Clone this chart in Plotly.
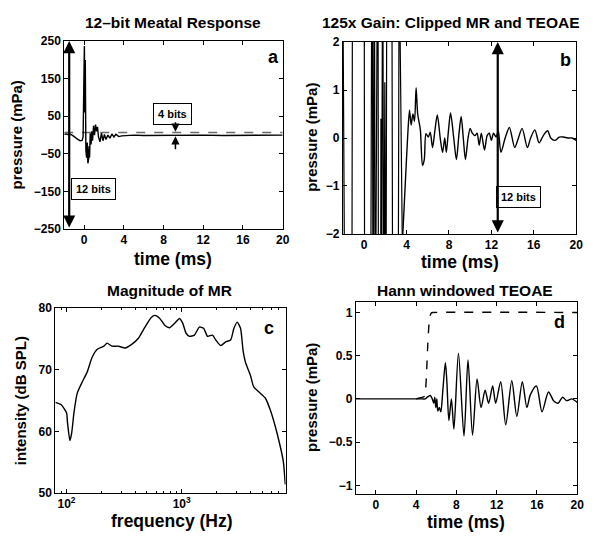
import plotly.graph_objects as go

# ---------------- data ----------------
# (a) 12-bit meatal response, time (ms) vs pressure (mPa)
meatal_t = [-2.0, -1.8, -1.6, -1.4, -1.2, -1.0, -0.8, -0.6, -0.4, -0.2, -0.1, 0.0, 0.03, 0.08,
            0.12, 0.18, 0.25, 0.32, 0.38, 0.45, 0.5, 0.55, 0.62, 0.7, 0.78, 0.85, 0.95, 1.05,
            1.15, 1.25, 1.35, 1.45, 1.6, 1.75, 1.9, 2.05, 2.2, 2.4, 2.6, 2.8, 3.0, 3.2, 3.5,
            3.8, 4.2, 5.0, 6.0, 8.0, 10.0, 12.0, 14.0, 16.0, 18.0, 20.0]
meatal_p = [2, 3, 1, 2, 0, -3, -8, -12, -15, -14, -5, 190, 237, 60,
            200, -40, -60, -20, -75, -65, -30, -60, 5, -25, 10, -15, 25, 0,
            28, 10, 22, -5, -18, 5, -15, 2, -12, 0, -8, 3, -5, 2, -4,
            -2, -1, 0, -1, 0, -1, 0, -1, 0, 0, 0]
lsb_t = [-2, 20]
lsb_p = [7, 7]

# (b) 125x gain recording: clipped meatal response, then the TEOAE
clip_t = [-2.0, -1.85, -1.5, -1.15, -1.1, -0.5, 0.0, 0.05, 0.3, 0.6, 0.75, 0.85, 0.95, 1.05,
          1.3, 1.35, 1.55, 1.58, 1.62, 1.75, 1.85, 1.95, 2.05, 2.15, 2.6, 2.7, 3.2, 3.3, 3.6]
clip_p = [3, -3, -4, -3, 4, 5, 5, -5, -6, -5, 6, -6, 6, -5,
          6, -5, -5, 0.4, -5, 5, -5, 1.16, -5, 5, 5, -5, -5, 4, -2.2]
tail_t = [3.6, 3.88, 4.12, 4.28, 4.43, 4.6, 4.75, 4.9, 5.05, 5.3, 5.5, 5.67, 5.83, 6.05, 6.23,
          6.45, 6.67, 6.9, 7.2, 7.4, 7.6, 7.75, 7.95, 8.15, 8.45, 8.7, 8.95, 9.15, 9.35, 9.55,
          9.8, 10.0, 10.2, 10.45, 10.65, 10.85, 11.05, 11.35, 11.6, 11.8, 12.0, 12.2, 12.45,
          12.65, 12.9, 13.3, 13.7, 14.2, 14.55, 14.9, 15.4, 15.7, 16.1, 16.5, 16.9, 17.3,
          17.6, 18.0, 18.4, 18.8, 19.2, 19.6, 20.0]
tail_p = [-2.2, -0.95, 0.1, 0.58, 0.27, 0.5, 0.35, 1.05, 0.5, 0.17, -0.57, -0.45, 0.09, 0.02, 0.12,
          -0.2, 0.15, 0.48, -0.05, -0.3, 0.0, -0.3, 0.15, 0.52, 0.0, -0.45, 0.1, 0.45, 0.0, -0.45,
          0.0, 0.2, 0.1, 0.05, 0.1, -0.15, 0.1, -0.25, 0.05, 0.1, -0.05, 0.1, 0.02,
          0.15, -0.3, 0.0, 0.22, -0.2, 0.0, 0.2, -0.2, 0.0, 0.17, -0.1, 0.05, 0.15,
          0.0, -0.05, 0.02, 0.02, 0.0, 0.0, -0.05]

# (c) magnitude spectrum of the meatal response
freq_hz = [80, 90, 100, 102, 107, 111, 116, 124, 137, 151, 167, 185, 211, 225, 248, 283, 323,
           368, 421, 480, 547, 585, 646, 713, 787, 869, 959, 1023, 1093, 1169, 1290, 1424,
           1551, 1679, 1853, 1978, 2184, 2411, 2662, 2845, 3037, 3245, 3420, 3581, 3954,
           4227, 4667, 5323, 5877, 6480, 7152, 7640, 7945]
level_db = [64.7, 64.3, 63.0, 61.4, 58.5, 59.8, 63.0, 66.2, 68.0, 69.6, 72.0, 73.3, 73.8, 74.3,
            73.8, 73.8, 73.5, 74.1, 75.1, 76.9, 78.5, 78.8, 78.3, 77.2, 76.8, 77.5, 78.3,
            77.5, 75.9, 75.4, 75.6, 76.9, 76.7, 75.4, 75.6, 74.8, 73.9, 74.5, 74.8, 76.7,
            77.7, 76.7, 73.0, 71.2, 69.1, 67.2, 66.4, 65.4, 63.5, 60.9, 57.7, 55.1, 51.4]

# (d) Hann-windowed TEOAE and the window itself
teoae_t = [-2.0, 4.6, 4.9, 5.1, 5.4, 5.6, 5.75, 5.85, 5.95, 6.05, 6.15, 6.3, 6.45, 6.65, 6.9,
           7.05, 7.25, 7.5, 7.75, 8.2, 8.75, 9.15, 9.6, 10.05, 10.45, 10.85, 11.2, 11.6, 11.9,
           12.4, 12.9, 13.5, 14.0, 14.55, 15.0, 15.35, 15.95, 16.5, 17.15, 17.65, 18.1,
           18.55, 18.95, 19.45, 19.9, 20.0]
teoae_p = [0.0, 0.0, 0.0, 0.02, 0.04, 0.0, -0.05, 0.02, -0.1, 0.0, -0.14, -0.1, -0.15, 0.1, 0.42,
           0.2, -0.25, 0.0, -0.35, 0.53, -0.43, 0.45, -0.42, 0.23, -0.1, 0.1, -0.05, 0.15, -0.05,
           0.2, -0.3, 0.21, -0.2, 0.2, -0.1, 0.05, 0.15, -0.15, 0.08, -0.02, -0.05,
           0.02, -0.02, 0.0, -0.03, -0.04]
hann_t = [4.0, 4.85, 4.95, 5.05, 5.15, 5.25, 5.35, 5.5, 5.65, 20.0]
hann_w = [0.0, 0.03, 0.12, 0.35, 0.62, 0.83, 0.95, 0.995, 1.0, 1.0]

# axis ticks
time_ticks = [0, 4, 8, 12, 16, 20]
mr_ticks = [-250, -150, -50, 50, 150, 250]
clip_ticks = [-2, -1, 0, 1, 2]
db_ticks = [50, 60, 70, 80]
freq_ticks = [100, 1000]
freq_ticktext = ["10<sup>2</sup>", "10<sup>3</sup>"]
minor_freq = [90, 200, 300, 400, 500, 600, 700, 800, 900, 2000, 3000, 4000, 5000, 6000, 7000, 8000]
win_ticks = [-1, -0.5, 0, 0.5, 1]

# ---------------- figure ----------------
W, H = 600, 538
FONT = "Liberation Sans, Arial, sans-serif"
LINE = dict(color="black", width=1.4)

fig = go.Figure()
fig.add_trace(go.Scatter(x=lsb_t, y=lsb_p, mode="lines",
                         line=dict(color="#6a6a6a", width=1.4, dash="dash"), xaxis="x", yaxis="y"))
fig.add_trace(go.Scatter(x=meatal_t, y=meatal_p, mode="lines", line=LINE, xaxis="x", yaxis="y"))
fig.add_trace(go.Scatter(x=clip_t, y=clip_p, mode="lines", line=dict(color="black", width=1.2),
                         xaxis="x2", yaxis="y2"))
fig.add_trace(go.Scatter(x=tail_t, y=tail_p, mode="lines",
                         line=dict(color="black", width=1.4, shape="spline", smoothing=0.8),
                         xaxis="x2", yaxis="y2"))
fig.add_trace(go.Scatter(x=freq_hz, y=level_db, mode="lines",
                         line=dict(color="black", width=1.4, shape="spline", smoothing=0.6),
                         xaxis="x3", yaxis="y3"))
fig.add_trace(go.Scatter(x=teoae_t, y=teoae_p, mode="lines",
                         line=dict(color="black", width=1.4, shape="spline", smoothing=0.8),
                         xaxis="x4", yaxis="y4"))
fig.add_trace(go.Scatter(x=hann_t, y=hann_w, mode="lines",
                         line=dict(color="black", width=1.4, dash="dash", shape="spline", smoothing=0.5),
                         xaxis="x4", yaxis="y4"))


def px_x(px):
    return px / W


def px_y(py):
    return 1 - py / H


def axis_style(**kw):
    base = dict(showline=True, linecolor="black", linewidth=1, mirror="ticks",
                ticks="inside", ticklen=4, tickcolor="black", showgrid=False, zeroline=False,
                tickfont=dict(family=FONT, size=12, color="black", weight="bold"))
    base.update(kw)
    return base


fig.update_layout(
    width=W, height=H, margin=dict(l=0, r=0, t=0, b=0),
    paper_bgcolor="white", plot_bgcolor="white", showlegend=False,
    xaxis=axis_style(domain=[px_x(65), px_x(286)], range=[-2, 20], tickvals=time_ticks, anchor="y"),
    yaxis=axis_style(domain=[px_y(228), px_y(35)], range=[-250, 250], tickvals=mr_ticks, anchor="x"),
    xaxis2=axis_style(domain=[px_x(347), px_x(583)], range=[-2, 20], tickvals=time_ticks, anchor="y2"),
    yaxis2=axis_style(domain=[px_y(233), px_y(36)], range=[-2, 2], tickvals=clip_ticks, anchor="x2"),
    xaxis3=axis_style(domain=[px_x(56), px_x(289)], type="log", range=[1.903, 3.903],
                      tickvals=freq_ticks, ticktext=freq_ticktext, anchor="y3",
                      minor=dict(tickvals=minor_freq, ticks="inside", ticklen=2, tickcolor="black")),
    yaxis3=axis_style(domain=[px_y(499), px_y(309)], range=[50, 80], tickvals=db_ticks, anchor="x3"),
    xaxis4=axis_style(domain=[px_x(360), px_x(584)], range=[-2, 20], tickvals=time_ticks, anchor="y4"),
    yaxis4=axis_style(domain=[px_y(500), px_y(303)], range=[-1.1, 1.12], tickvals=win_ticks, anchor="x4"),
)

ann = []


def text(s, x, y, size, angle=0, **kw):
    d = dict(text=s, x=px_x(x), y=px_y(y), xref="paper", yref="paper", showarrow=False,
             xanchor="center", yanchor="middle", textangle=angle,
             font=dict(family=FONT, size=size, color="black", weight="bold"))
    d.update(kw)
    ann.append(d)


# panel titles
text("12\u2013bit Meatal Response", 175, 16, 15.5)
text("125x Gain: Clipped MR and TEOAE", 456, 16, 15.5)
text("Magnitude of MR", 172, 291, 15.5)
text("Hann windowed TEOAE", 470, 291, 15.5)
# axis titles
text("time (ms)", 175, 259, 17.5)
text("time (ms)", 465, 262, 17.5)
text("frequency (Hz)", 174, 528, 17.5)
text("time (ms)", 472, 529, 17.5)
text("pressure (mPa)", 17, 131, 15, angle=-90)
text("pressure (mPa)", 315, 134, 15, angle=-90)
text("intensity (dB SPL)", 21, 404, 15, angle=-90)
text("pressure (mPa)", 315, 401, 15, angle=-90)
# panel letters
text("a", 277, 51, 18)
text("b", 572, 54, 18)
text("c", 272, 330, 18)
text("d", 566, 323, 18)
# boxed labels
box = dict(bordercolor="black", borderwidth=1, borderpad=4, bgcolor="white")
text("12 bits", 94.5, 186.5, 11, **box)
text("4 bits", 174.5, 109.5, 11, **box)
text("12 bits", 524.5, 195, 11, **box)


def arrow(xr, yr, x, y, ax, ay, width, both=False):
    ann.append(dict(x=x, y=y, ax=ax, ay=ay, xref=xr, yref=yr, axref=xr, ayref=yr,
                    text="", showarrow=True, arrowhead=2, arrowsize=1.1, arrowwidth=width,
                    arrowcolor="black", arrowside="end+start" if both else "end",
                    standoff=0, startstandoff=0))


arrow("x", "y", -1.5, 250, -1.5, -250, 2.2, both=True)
arrow("x", "y", 9.2, 9, 9.2, 38, 1.5)
arrow("x", "y", 9.2, -3, 9.2, -42, 1.5)
arrow("x2", "y2", 12.6, 2, 12.6, -2, 2.2, both=True)

fig.update_layout(annotations=ann)
fig.write_html("out.html")
